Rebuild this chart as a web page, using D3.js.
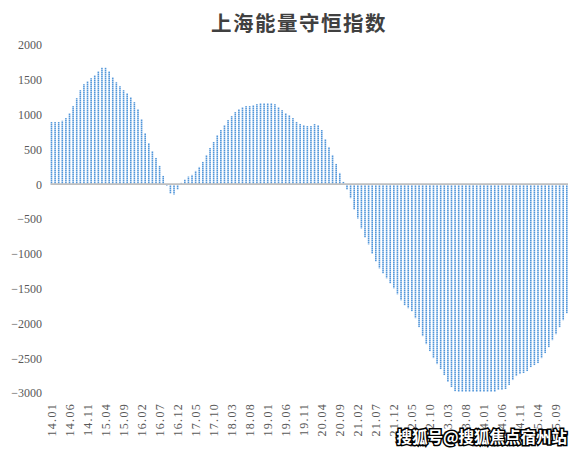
<!DOCTYPE html>
<html><head><meta charset="utf-8">
<script src="https://cdn.jsdelivr.net/npm/d3@7/dist/d3.min.js"></script>
<style>body{margin:0;background:#fff;}svg{display:block;}</style>
</head><body>
<svg id="c" width="581" height="454"></svg>
<script>
const title = "上海能量守恒指数";
const startYear = 14, startMonth = 1;
const values = [
 893, 893, 893, 912, 950, 1021, 1122, 1236, 1351, 1437, 1480, 1523,
 1566, 1623, 1675, 1675, 1623, 1537, 1465, 1408, 1351, 1308, 1251, 1179,
 1079, 936, 735, 592, 477, 377, 263, 119, -25, -134, -148, -76,
 19, 67, 110, 134, 191, 248, 320, 420, 520, 606, 706, 778,
 850, 921, 978, 1036, 1079, 1107, 1122, 1122, 1136, 1150, 1165, 1165,
 1165, 1165, 1150, 1107, 1064, 1021, 993, 950, 893, 864, 850, 835,
 835, 864, 850, 778, 649, 535, 420, 291, 162, 33, -77, -201,
 -364, -493, -636, -765, -865, -999, -1109, -1209, -1281, -1352, -1424, -1496,
 -1582, -1668, -1739, -1782, -1825, -1925, -2054, -2183, -2298, -2398, -2499, -2585,
 -2656, -2742, -2842, -2914, -2975, -2985, -2985, -2985, -2985, -2985, -2985, -2985,
 -2985, -2985, -2985, -2985, -2957, -2957, -2943, -2885, -2814, -2757, -2728, -2713,
 -2685, -2628, -2599, -2570, -2499, -2427, -2341, -2241, -2155, -2054, -1954, -1854
];
const yTicks = [2000, 1500, 1000, 500, 0, -500, -1000, -1500, -2000, -2500, -3000];

const categories = values.map((v, i) => {
  const m = startMonth - 1 + i;
  const y = startYear + Math.floor(m / 12);
  const mm = (m % 12) + 1;
  return y + "." + String(mm).padStart(2, "0");
});
const labelEvery = 5;
const xTickLabels = categories.filter((c, i) => i % labelEvery === 0);

const svg = d3.select("#c");
const defs = svg.append("defs");
const pat = defs.append("pattern").attr("id","stripe").attr("patternUnits","userSpaceOnUse")
  .attr("width", 4).attr("height", 2);
pat.append("rect").attr("width",4).attr("height",1).attr("fill","#5196d8");
pat.append("rect").attr("y",1).attr("width",4).attr("height",1).attr("fill","#a3c7ee");

const x = d3.scaleBand().domain(categories).range([50.5, 567.8]).paddingInner(0.55).paddingOuter(0.05);
const y = d3.scaleLinear().domain([-3000, 2000]).range([393, 45]);

svg.append("text").attr("x", 299).attr("y", 31).attr("text-anchor","middle")
  .attr("font-family","'Noto Sans CJK SC', sans-serif").attr("font-weight","bold")
  .attr("font-size", 20.5).attr("letter-spacing", 1.5).attr("fill","#404040").text(title);

// y axis labels
const yAxis = d3.axisLeft(y).tickValues(yTicks).tickSize(0).tickPadding(0)
  .tickFormat(d => d < 0 ? "−" + Math.abs(d) : String(d));
const yg = svg.append("g").attr("transform","translate(42,0)").call(yAxis);
yg.select(".domain").remove();
yg.selectAll("text").attr("font-family","'Liberation Serif', serif").attr("font-size", 12).attr("fill","#595959");

// bars
svg.append("g").selectAll("rect").data(values).join("rect")
  .attr("x", (d,i) => x(categories[i]))
  .attr("width", x.bandwidth())
  .attr("y", d => y(Math.max(0, d)))
  .attr("height", d => Math.abs(y(d) - y(0)))
  .attr("fill", "url(#stripe)");

// zero line
svg.append("line").attr("x1", 50.5).attr("x2", 568).attr("y1", y(0)).attr("y2", y(0))
  .attr("stroke","#bfbfbf").attr("stroke-width", 1.8);

// x axis labels (rotated)
const xAxis = d3.axisBottom(x).tickValues(xTickLabels).tickSize(0).tickPadding(0);
const xg = svg.append("g").attr("transform","translate(0,403)").call(xAxis);
xg.select(".domain").remove();
xg.selectAll("text")
  .attr("transform","rotate(-90)")
  .attr("text-anchor","end")
  .attr("x", 0).attr("y", 0).attr("dy","0.35em")
  .attr("letter-spacing", 1.3)
  .attr("font-family","'Liberation Serif', serif").attr("font-size", 12).attr("fill","#595959");

// watermark
svg.append("text").attr("x", 567).attr("y", 443).attr("text-anchor","end")
  .attr("font-family","'Noto Sans CJK SC', sans-serif").attr("font-weight","bold")
  .attr("font-size", 15.5).attr("fill","#fff").attr("stroke","#000").attr("stroke-width", 3)
  .attr("paint-order","stroke").text("搜狐号@搜狐焦点宿州站");
</script>
</body></html>
